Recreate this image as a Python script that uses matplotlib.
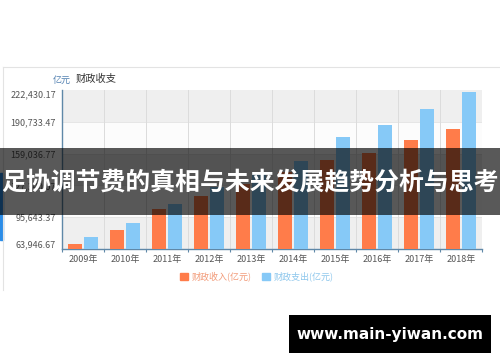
import matplotlib
matplotlib.use("Agg")
import matplotlib.pyplot as plt
from matplotlib.patches import Rectangle
import numpy as np

plt.rcParams['font.family'] = ['Noto Sans CJK SC', 'DejaVu Sans']

# data (亿元)
years = ['2009年', '2010年', '2011年', '2012年', '2013年',
         '2014年', '2015年', '2016年', '2017年', '2018年']
income = [68518, 83102, 103874, 117254, 129210, 140370, 152269, 159605, 172593, 183352]
spending = [76300, 89874, 109248, 125953, 140212, 151786, 175878, 187755, 203085, 220904]
y_ticks = [63946.67, 95643.37, 127340.07, 159036.77, 190733.47, 222430.17]
y_labels = ['63,946.67', '95,643.37', '127,340.07', '159,036.77', '190,733.47', '222,430.17']

c_in = '#ff7c4a'
c_out = '#86c9f7'
axis_c = '#5f88a8'

W, H = 500, 362
fig = plt.figure(figsize=(5, 3.62), dpi=100)
fig.patch.set_facecolor('white')

# px helper -> figure coords
def fx(x):
    return x / W
def fy(y):
    return 1 - y / H

ax = fig.add_axes([fx(62), fy(249), (482 - 62) / W, (249 - 90) / H])
ax.set_facecolor('#fcfcfc')

x = np.arange(len(years))
ax.bar(x - 0.2, income, width=0.333, color=c_in, zorder=3)
ax.bar(x + 0.2, spending, width=0.333, color=c_out, zorder=3)

ax.set_xlim(-0.5, len(years) - 0.5)
ax.set_ylim(y_ticks[0], y_ticks[-1])

# alternating bands
for i in range(len(y_ticks) - 1):
    if i % 2 == 0:
        ax.axhspan(y_ticks[i], y_ticks[i + 1], color='#efefef', zorder=0, lw=0)
for v in y_ticks[1:-1]:
    ax.axhline(v, color='#e2e2e2', lw=0.6, zorder=1)
for b in np.arange(-0.5, len(years), 1.0):
    ax.axvline(b, color='#dcdcdc', lw=0.7, zorder=1)

ax.set_yticks(y_ticks)
ax.set_yticklabels(y_labels)
ax.tick_params(axis='y', length=0, pad=4.3, labelsize=6.5, labelcolor='#555555')
lbls = ax.get_yticklabels()
lbls[0].set_va('bottom')
lbls[-1].set_va('top')

ax.set_xticks(np.arange(-0.5, len(years), 1.0))
ax.set_xticklabels([])
ax.set_xticks(x, minor=True)
ax.set_xticklabels(years, minor=True)
ax.tick_params(axis='x', which='major', length=2.5, width=0.8, color=axis_c, direction='out')
ax.tick_params(axis='x', which='minor', length=0, pad=4.5, labelsize=6.5, labelcolor='#555555')

for s in ['top', 'right']:
    ax.spines[s].set_visible(False)
for s in ['left', 'bottom']:
    ax.spines[s].set_color(axis_c)
    ax.spines[s].set_linewidth(1.0)

# title and unit
fig.text(fx(53), fy(80), '亿元', fontsize=6.5, color='#4f7fb0', va='center')
fig.text(fx(76), fy(79), '财政收支', fontsize=7.4, color='#333333', va='center')

# legend
h1 = Rectangle((0, 0), 1, 1, color=c_in)
h2 = Rectangle((0, 0), 1, 1, color=c_out)
leg = fig.legend([h1, h2], ['财政收入(亿元)', '财政支出(亿元)'], ncol=2, loc='center',
                 bbox_to_anchor=(fx(257), fy(276.5)), frameon=False, fontsize=6.5,
                 handlelength=0.9, handleheight=0.9, handletextpad=0.45,
                 columnspacing=1.1)
leg.get_texts()[0].set_color('#f29a78')
leg.get_texts()[1].set_color('#8cc6ec')

# outer frame lines
fig.add_artist(plt.Line2D([fx(3), 1], [fy(67), fy(67)], color='#e3e3e3', lw=0.8))
fig.add_artist(plt.Line2D([fx(3), fx(3)], [fy(67), fy(290)], color='#e3e3e3', lw=0.8))

# blue strip at far left
fig.patches.append(Rectangle((0, fy(240)), fx(3), (240 - 173) / H, transform=fig.transFigure,
                             color='#2a8ce8', zorder=1))

# dark banner with headline
fig.patches.append(Rectangle((0, fy(215)), 1, (215 - 148) / H, transform=fig.transFigure,
                             color='black', alpha=0.65, lw=0, zorder=2))
fig.text(0.5, fy(182), '足协调节费的真相与未来发展趋势分析与思考', fontsize=17.9,
         fontweight='bold', color='white', ha='center', va='center', zorder=4)

# watermark
fig.patches.append(Rectangle((fx(289), fy(353)), (491 - 289) / W, (353 - 315) / H,
                             transform=fig.transFigure, color='black', lw=0, zorder=2))
fig.text(fx(390), fy(334), 'www.main-yiwan.com', fontsize=11, fontweight='bold',
         family='DejaVu Sans', color='white', ha='center', va='center', zorder=4)

fig.savefig('out.png', dpi=100)
